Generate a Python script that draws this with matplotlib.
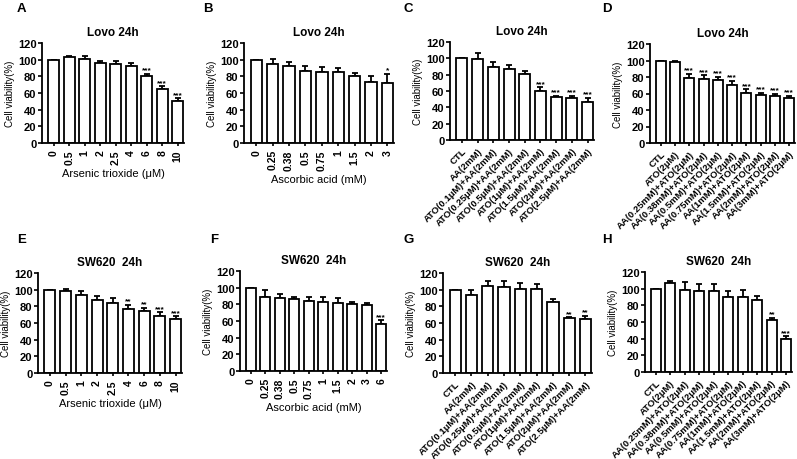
#!/usr/bin/env python3

'''
Cell viability bar panels, Lovo and SW620 at 24h.
'''

import numpy as np
import matplotlib
matplotlib.use('Agg')
import matplotlib.pyplot as pl

pl.rcParams['font.family'] = ['Liberation Sans', 'DejaVu Sans']
pl.rcParams['font.weight'] = 'bold'

W, H = 797, 460

# --- data ---
ato_doses = ['0', '0.5', '1', '2', '2.5', '4', '6', '8', '10']
aa_doses_lovo = ['0', '0.25', '0.38', '0.5', '0.75', '1', '1.5', '2', '3']
aa_doses_sw = ['0', '0.25', '0.38', '0.5', '0.75', '1', '1.5', '2', '3', '6']
combo_ato = ['CTL', 'AA(2mM)', 'ATO(0.1μM)+AA(2mM)', 'ATO(0.25μM)+AA(2mM)',
             'ATO(0.5μM)+AA(2mM)', 'ATO(1μM)+AA(2mM)', 'ATO(1.5μM)+AA(2mM)',
             'ATO(2μM)+AA(2mM)', 'ATO(2.5μM)+AA(2mM)']
combo_aa = ['CTL', 'ATO(2μM)', 'AA(0.25mM)+ATO(2μM)', 'AA(0.38mM)+ATO(2μM)',
            'AA(0.5mM)+ATO(2μM)', 'AA(0.75mM)+ATO(2μM)', 'AA(1mM)+ATO(2μM)',
            'AA(1.5mM)+ATO(2μM)', 'AA(2mM)+ATO(2μM)', 'AA(3mM)+ATO(2μM)']

a_mean = [100, 103, 101, 96, 95, 93, 80, 65, 51]
a_err = [0, 1.5, 3, 3, 3, 2.5, 3, 3, 2.5]
a_sig = ['', '', '', '', '', '', '***', '***', '***']

b_mean = [100, 95, 92, 87, 85, 85, 81, 73, 72]
b_err = [0, 6, 5, 5, 6, 5, 3, 7, 11]
b_sig = ['', '', '', '', '', '', '', '', '*']

c_mean = [100, 99, 89, 87, 81, 60, 53, 52, 47]
c_err = [0, 8, 6, 5, 4, 4.5, 1, 2, 5]
c_sig = ['', '', '', '', '', '***', '***', '***', '***']

d_mean = [100, 98, 79, 78, 76, 70, 61, 58, 57, 54]
d_err = [0, 2, 5, 4, 4, 5, 4, 3, 3, 3]
d_sig = ['', ''] + ['***'] * 8

e_mean = [100, 98, 94, 88, 84, 77, 74, 69, 65]
e_err = [0, 3, 5, 4, 6, 5, 4, 4, 3]
e_sig = ['', '', '', '', '', '**', '**', '***', '***']

f_mean = [100, 89, 88, 86, 84, 83, 82, 80, 79, 56]
f_err = [0, 8, 4, 3, 5, 6, 6, 3, 3, 5]
f_sig = [''] * 9 + ['***']

g_mean = [100, 94, 104, 103, 101, 101, 85, 66, 65]
g_err = [0, 6, 6, 8, 7, 6, 4, 1, 4]
g_sig = [''] * 7 + ['**', '**']

h_mean = [100, 107, 99, 97, 97, 90, 90, 87, 63, 40]
h_err = [0, 2, 9, 9, 9, 7, 8, 4, 2, 3]
h_sig = [''] * 8 + ['**', '***']


def panel(box, cats, mean, err, sig, title, xlabel, letter, rot):
    '''
    box = (left, top, right, bottom) of the axes in pixels
    '''
    x0, y0, x1, y1 = box
    ax = fig.add_axes([x0/W, 1-y1/H, (x1-x0)/W, (y1-y0)/H])
    x = np.arange(len(cats))
    ax.bar(x, mean, width=0.7, color='white', edgecolor='black', linewidth=1.3, zorder=2)
    ax.errorbar(x, mean, yerr=[np.zeros(len(err)), err], fmt='none', ecolor='black',
                elinewidth=1.3, capsize=2.5, capthick=1.3, zorder=1)
    for xi, m, e, s in zip(x, mean, err, sig):
        if s:
            ax.text(xi, m+e+0.5, s, ha='center', va='bottom', fontsize=6)
    ax.set_ylim(0, 120)
    ax.set_yticks(np.arange(0, 121, 20))
    ax.set_xlim(-0.75, len(cats)-0.6)
    ax.set_xticks(x)
    if rot == 90:
        ax.set_xticklabels(cats, rotation=90, fontsize=7.5)
    else:
        ax.set_xticklabels(cats, rotation=45, ha='right', rotation_mode='anchor', fontsize=6.8)
    ax.tick_params(axis='y', labelsize=8, width=1.2, length=3, pad=1)
    ax.tick_params(axis='x', width=1.2, length=2.5, pad=2)
    for sp in ['top', 'right']:
        ax.spines[sp].set_visible(False)
    for sp in ['left', 'bottom']:
        ax.spines[sp].set_linewidth(1.3)
    ax.set_ylabel('Cell viability(%)', fontsize=7, labelpad=2)
    if xlabel:
        ax.set_xlabel(xlabel, fontsize=8, labelpad=3)
    ax.set_title(title, fontsize=8.5, fontweight='bold', pad=6)
    fig.text(letter[1]/W, 1-letter[2]/H, letter[0], fontsize=9.5, fontweight='bold',
             ha='left', va='center')
    return ax


fig = pl.figure(figsize=(W/100, H/100), dpi=100)

panel((42, 44, 184, 144), ato_doses, a_mean, a_err, a_sig, 'Lovo 24h',
      'Arsenic trioxide (μM)', ('A', 17, 9), 90)
panel((244, 44, 394, 144), aa_doses_lovo, b_mean, b_err, b_sig, 'Lovo 24h',
      'Ascorbic acid (mM)', ('B', 203, 9), 90)
panel((450, 43, 594, 141), combo_ato, c_mean, c_err, c_sig, 'Lovo 24h',
      None, ('C', 404, 9), 45)
panel((650, 45, 795, 144), combo_aa, d_mean, d_err, d_sig, 'Lovo 24h',
      None, ('D', 602, 9), 45)

panel((38, 274, 182, 374), ato_doses, e_mean, e_err, e_sig, 'SW620  24h',
      'Arsenic trioxide (μM)', ('E', 17, 240), 90)
panel((240, 272, 387, 372), aa_doses_sw, f_mean, f_err, f_sig, 'SW620  24h',
      'Ascorbic acid (mM)', ('F', 210, 240), 90)
panel((443, 274, 592, 374), combo_ato, g_mean, g_err, g_sig, 'SW620  24h',
      None, ('G', 404, 240), 45)
panel((645, 273, 792, 373), combo_aa, h_mean, h_err, h_sig, 'SW620  24h',
      None, ('H', 602, 240), 45)

pl.savefig('out.png', dpi=100)
